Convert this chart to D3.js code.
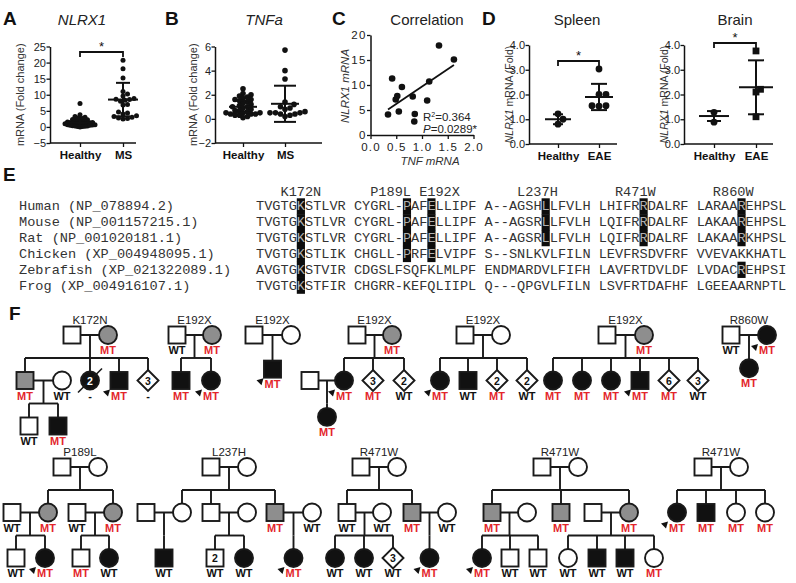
<!DOCTYPE html>
<html><head><meta charset="utf-8">
<script src="https://cdn.jsdelivr.net/npm/d3@7"></script>
<style>body{margin:0;background:#fff}svg{display:block}</style>
</head><body><svg id="c" width="796" height="583"></svg>
<script>
const FONT = '"Liberation Sans", Arial, Helvetica, sans-serif';
const MONO = '"Liberation Mono", "Courier New", monospace';

// ---------------- DATA ----------------
// Panel A: NLRX1 mRNA fold change
const aCategories = ["Healthy", "MS"];
const aHealthy = [7.3, 3.8, 3.2, 3.0, 2.8, 2.6, 2.5, 2.3, 2.2, 2.0, 1.9, 1.8, 1.7, 1.6, 1.5, 1.4, 1.4, 1.3, 1.2, 1.2, 1.1, 1.0, 1.0, 0.9, 0.9, 0.8, 0.7, 0.7, 0.6, 0.5, 0.5, 0.4, 0.3, 0.3, 0.2, 0.1, 0.1, 0.0];
const aMS = [20.7, 18.1, 15.2, 11.0, 10.2, 9.6, 8.8, 8.6, 8.5, 8.3, 8.0, 7.0, 6.8, 4.6, 4.3, 4.0, 3.5, 3.2, 3.0, 2.8, 2.6, 2.5];
const aMean = [1.4, 8.5];
const aSD = [1.1, 5.2];
const aTicks = [-5, 0, 5, 10, 15, 20, 25];

// Panel B: TNFa mRNA fold change
const bCategories = ["Healthy", "MS"];
const bHealthy = [2.5, 2.1, 2.0, 1.9, 1.8, 1.7, 1.6, 1.6, 1.5, 1.4, 1.3, 1.2, 1.1, 1.0, 1.0, 0.9, 0.8, 0.7, 0.7, 0.6, 0.5, 0.5, 0.5, 0.4, 0.4, 0.4, 0.3, 0.3, 0.2, 0.1];
const bMS = [5.7, 4.0, 3.3, 1.4, 1.2, 1.0, 0.9, 0.8, 0.6, 0.5, 0.5, 0.5, 0.4, 0.4, 0.3, 0.2];
const bMean = [1.0, 1.25];
const bSD = [0.5, 1.5];
const bTicks = [-2, 0, 2, 4, 6];

// Panel C: correlation
const cTNF   = [0.34, 0.42, 0.49, 0.52, 0.55, 0.61, 0.82, 0.86, 0.85, 1.10, 1.14, 1.33, 1.62];
const cNLRX1 = [4.1, 11.3, 7.1, 7.8, 4.7, 9.6, 7.7, 4.2, 2.7, 6.9, 10.7, 17.9, 15.1];
const cXTicks = [0, 0.5, 1.0, 1.5, 2.0];
const cYTicks = [0, 5, 10, 15, 20];

// Panel D: EAE mice
const dCategories = ["Healthy", "EAE"];
const spleenHealthy = [1.22, 1.0, 0.8];
const spleenEAE = [3.03, 2.0, 2.0, 1.55, 1.53, 1.55];
const spleenMean = [1.0, 1.9];
const spleenSD = [0.2, 0.53];
const brainHealthy = [1.28, 0.88];
const brainEAE = [3.76, 2.21, 2.1, 1.1];
const brainMean = [1.13, 2.29];
const brainSD = [0.2, 1.09];
const dTicks = [0, 1, 2, 3, 4];

// Panel E: alignment
const species = ["Human (NP_078894.2)", "Mouse (NP_001157215.1)", "Rat (NP_001020181.1)", "Chicken (XP_004948095.1)", "Zebrafish (XP_021322089.1)", "Frog (XP_004916107.1)"];
const sequences = [
  "TVGTGKSTLVR CYGRL-PAFELLIPF A--AGSHLLFVLH LHIFRRDALRF LARAAREHPSL",
  "TVGTGKSTLVR CYGRL-PAFELLIPF A--AGSRLLFVLH LQIFRRDALRF LAKAAREHPSL",
  "TVGTGKSTLVR CYGRL-PAFELLIPF A--AGSRLLFVLH LQIFRRDALRF LAKAARKHPSL",
  "TVGTGKSTLIK CHGLL-PRFELVIPF S--SNLKVLFILN LEVFRSDVFRF VVEVAKKHATL",
  "AVGTGKSTVIR CDGSLFSQFKLMLPF ENDMARDVLFIFH LAVFRTDVLDF LVDACREHPSI",
  "TVGTGKSTFIR CHGRR-KEFQLIIPL Q---QPGVLFILN LSVFRTDAFHF LGEEAARNPTL"
];
const mutationHeader = "   K172N      P189L E192X       L237H       R471W       R860W";
const highlightColumns = [5, 18, 21, 35, 47, 59];
const highlightRows = [[0,1,2,3,4,5], [0,1,2,3], [0,1,2,3], [0,1,2], [0,1,2], [0,1,2,4]];

// Panel F: pedigrees  [sex, fill, x, generation, genotype, extra]
const pedigrees = [
 {title:"K172N", row:0, people:[
   ["M","o",72,0,""],["F","g",108,0,"MT"],["M","g",25,1,"MT"],["F","o",62,1,"WT"],
   ["F","b",90,1,"-",{n:"2",dec:1}],["M","b",119,1,"MT",{pb:1}],["U","o",148,1,"-",{n:"3"}],
   ["M","o",29,2,"WT"],["M","b",58,2,"MT"]],
  fams:[[0,1,[2,4,5,6]],[2,3,[7,8]]]},
 {title:"E192X", row:0, people:[
   ["M","o",177,0,"WT"],["F","g",212,0,"MT"],["M","b",181,1,"MT"],["F","b",211,1,"MT",{pb:1}]],
  fams:[[0,1,[2,3]]]},
 {title:"E192X", row:0, people:[
   ["M","o",254,0,""],["F","o",291,0,""],["M","b",272.5,0.75,"MT",{pb:1}]],
  fams:[[0,1,[2]]]},
 {title:"E192X", row:0, people:[
   ["M","o",357,0,""],["F","g",392,0,"MT"],["F","b",344,1,"MT",{pb:1}],["U","o",373,1,"MT",{n:"3"}],
   ["U","o",404,1,"WT",{n:"2"}],["M","o",310,1,""],["F","b",327,1.8,"MT"]],
  fams:[[0,1,[2,3,4]],[5,2,[6]]]},
 {title:"E192X", row:0, people:[
   ["M","o",465,0,""],["F","o",501,0,""],["F","b",440,1,"MT",{pb:1}],["M","b",468,1,"WT"],
   ["U","o",497,1,"MT",{n:"2"}],["U","o",527,1,"WT",{n:"2"}]],
  fams:[[0,1,[2,3,4,5]]]},
 {title:"E192X", row:0, people:[
   ["M","o",607,0,""],["F","g",644,0,"MT"],["F","b",553,1,"MT"],["F","b",582,1,"MT"],["F","b",611,1,"MT"],
   ["M","b",640,1,"MT",{pb:1}],["U","o",669,1,"MT",{n:"6"}],["U","o",698,1,"WT",{n:"3"}]],
  fams:[[0,1,[2,3,4,5,6,7]]]},
 {title:"R860W", row:0, people:[
   ["M","o",731,0,"WT"],["F","b",767,0,"MT",{pb:1}],["F","b",749,0.73,"MT"]],
  fams:[[0,1,[2]]]},
 {title:"P189L", row:1, people:[
   ["M","o",62,0,""],["F","o",98,0,""],["M","o",12,1,"WT"],["F","g",48,1,"MT"],["M","o",77,1,"WT"],["F","g",113,1,"MT"],
   ["M","o",16,2,"WT"],["F","b",45,2,"MT",{pb:1}],["M","o",81,2,"MT"],["F","b",109,2,"WT"]],
  fams:[[0,1,[3,5]],[2,3,[6,7]],[4,5,[8,9]]]},
 {title:"L237H", row:1, people:[
   ["M","o",211,0,""],["F","o",247,0,""],["M","o",146,1,""],["F","o",182,1,""],["M","o",211,1,""],["F","o",247,1,""],
   ["M","g",275,1,"MT"],["F","o",312,1,"WT"],["M","b",164,2,"WT"],["M","o",215,2,"WT",{n:"2"}],["F","b",244,2,"WT"],["F","b",293.5,2,"MT",{pb:1}]],
  fams:[[0,1,[3,4,6]],[2,3,[8]],[4,5,[9,10]],[6,7,[11]]]},
 {title:"R471W", row:1, people:[
   ["M","o",361,0,""],["F","o",397,0,""],["M","o",347,1,"WT"],["F","o",382,1,"WT"],["M","g",412,1,"MT"],["F","o",447,1,"WT"],
   ["F","b",335,2,"WT"],["F","b",364,2,"WT"],["U","o",393,2,"WT",{n:"3"}],["F","b",429.5,2,"MT",{pb:1}]],
  fams:[[0,1,[2,4]],[2,3,[6,7,8]],[4,5,[9]]]},
 {title:"R471W", row:1, people:[
   ["M","o",542,0,""],["F","o",578,0,""],["M","g",492,1,"MT"],["F","o",527,1,""],["M","g",561,1,"MT"],["M","o",593,1,""],["F","g",629,1,"MT"],
   ["F","b",482,2,"MT",{pb:1}],["M","o",510,2,"WT"],["M","o",538,2,"WT"],["F","o",568,2,"WT"],["M","b",597,2,"WT"],["M","b",625,2,"WT"],["F","o",654,2,"MT"]],
  fams:[[0,1,[2,4,6]],[2,3,[7,8,9]],[5,6,[10,11,12,13]]]},
 {title:"R471W", row:1, people:[
   ["M","o",703,0,""],["F","o",739,0,""],["F","b",677,1,"MT",{pb:1}],["M","b",706,1,"MT"],["F","o",736,1,"MT"],["F","o",765,1,"MT"]],
  fams:[[0,1,[2,3,4,5]]]}
];

// ---------------- DRAWING ----------------
const svg = d3.select("#c");
svg.append("rect").attr("width",796).attr("height",583).attr("fill","#fff");

function txt(g, x, y, s, o = {}) {
  const t = g.append("text").attr("x", x).attr("y", y).text(s)
    .attr("font-family", o.family || FONT).attr("font-size", o.size || 11)
    .attr("fill", o.fill || "#111");
  if (o.weight) t.attr("font-weight", o.weight);
  if (o.style) t.attr("font-style", o.style);
  if (o.anchor) t.attr("text-anchor", o.anchor);
  if (o.ls) t.attr("letter-spacing", o.ls);
  return t;
}

// panel letters
[["A",3,25],["B",165,25],["C",332,25],["D",482,25],["E",3,181],["F",9,320]].forEach(d =>
  txt(svg, d[1], d[2], d[0], {size: 19, weight: "bold"}));

function swarm(ys, d) {
  const order = ys.map((v, i) => i).sort((a, b) => ys[b] - ys[a]);
  const placed = [], out = new Array(ys.length);
  order.forEach(i => {
    let k = 0, off = 0;
    while (k < 600) {
      off = k === 0 ? 0 : (k % 2 ? 1 : -1) * Math.ceil(k / 2) * 0.5;
      if (placed.every(p => (p.x - off) ** 2 + (p.y - ys[i]) ** 2 >= d * d)) break;
      k++;
    }
    placed.push({x: off, y: ys[i]}); out[i] = off;
  });
  return out;
}

function styleAxis(a, size) {
  a.select(".domain").attr("stroke", "#111").attr("stroke-width", 1.5);
  a.selectAll(".tick line").attr("stroke", "#111").attr("stroke-width", 1.3);
  a.selectAll(".tick text").attr("font-size", size || 11).attr("font-family", FONT).attr("fill", "#222");
}

function dotPlot(o) {
  const g = svg.append("g");
  const y = d3.scaleLinear().domain(o.yDomain).range([o.bottom, o.top]);
  const x = d3.scalePoint().domain(o.cats).range(o.catRange);
  const ya = g.append("g").attr("transform", `translate(${o.left},0)`)
    .call(d3.axisLeft(y).tickValues(o.ticks).tickSize(3.5).tickSizeOuter(0).tickPadding(0.5));
  styleAxis(ya, 11);
  const xa = g.append("g").attr("transform", `translate(0,${o.bottom})`)
    .call(d3.axisBottom(x).tickSize(4).tickPadding(4));
  xa.select(".domain").remove();
  styleAxis(xa, 11.5);
  xa.selectAll(".tick text").attr("font-weight", "bold").attr("fill", "#111");
  g.append("line").attr("x1", o.left).attr("x2", o.right).attr("y1", o.bottom).attr("y2", o.bottom)
    .attr("stroke", "#111").attr("stroke-width", 1.5);
  // points
  o.groups.forEach((vals, i) => {
    const cx = x(o.cats[i]);
    const ys = vals.map(v => y(v));
    const offs = swarm(ys, o.r * 2 * o.pack[i]);
    const shape = (o.shapes && o.shapes[i]) || "circle";
    vals.forEach((v, j) => {
      if (shape === "circle")
        g.append("circle").attr("cx", cx + offs[j]).attr("cy", ys[j]).attr("r", o.r).attr("fill", "#111");
      else
        g.append("rect").attr("x", cx + offs[j] - o.r).attr("y", ys[j] - o.r).attr("width", o.r * 2).attr("height", o.r * 2).attr("fill", "#111");
    });
  });
  // mean +- SD
  o.means.forEach((m, i) => {
    const cx = x(o.cats[i]);
    const lw = o.meanW[i], cw = o.capW[i];
    const line = (x1, y1, x2, y2) => g.append("line").attr("x1", x1).attr("y1", y1).attr("x2", x2).attr("y2", y2)
      .attr("stroke", "#111").attr("stroke-width", 2);
    line(cx - lw, y(m), cx + lw, y(m));
    line(cx, y(m - o.sd[i]), cx, y(m + o.sd[i]));
    line(cx - cw, y(m + o.sd[i]), cx + cw, y(m + o.sd[i]));
    line(cx - cw, y(m - o.sd[i]), cx + cw, y(m - o.sd[i]));
  });
  // significance bracket
  if (o.sig) {
    const by = o.sig;
    const x1 = x(o.cats[0]), x2 = x(o.cats[1]);
    g.append("path").attr("d", `M${x1},${by + 5}V${by}H${x2}V${by + 5}`).attr("fill", "none")
      .attr("stroke", "#111").attr("stroke-width", 1.8);
    txt(g, (x1 + x2) / 2, by - 1, "*", {size: 13, anchor: "middle"});
  }
  if (o.title) txt(g, o.titleX, 25, o.title, {size: 15, anchor: "middle", style: o.titleItalic ? "italic" : null, fill: "#222"});
  const yl = g.append("text").attr("transform", `translate(${o.ylabelX},${(o.top + o.bottom) / 2}) rotate(-90)`)
    .attr("text-anchor", "middle").attr("font-family", FONT).attr("font-size", o.ylabelSize || 11).attr("fill", "#333");
  o.ylabel.forEach(p => yl.append("tspan").text(p[0]).attr("font-style", p[1] ? "italic" : null));
  return g;
}

// A
dotPlot({yDomain: [-5, 25], bottom: 143, top: 46.5, ticks: aTicks, cats: aCategories, catRange: [80, 123],
  left: 50, right: 136, groups: [aHealthy, aMS], r: 2.5, pack: [0.5, 0.9], means: aMean, sd: aSD,
  meanW: [15, 15], capW: [7, 7], sig: 52, title: "NLRX1", titleItalic: true, titleX: 82,
  ylabelX: 24, ylabel: [["mRNA (Fold change)", 0]]});
// B
dotPlot({yDomain: [-2, 6], bottom: 143, top: 46.5, ticks: bTicks, cats: bCategories, catRange: [243, 285],
  left: 215, right: 322, groups: [bHealthy, bMS], r: 2.8, pack: [0.75, 0.9], means: bMean, sd: bSD,
  meanW: [14, 14], capW: [10, 11], title: "TNFa", titleItalic: true, titleX: 264,
  ylabelX: 197, ylabel: [["mRNA (Fold change)", 0]]});
// D spleen
dotPlot({yDomain: [0, 4], bottom: 144, top: 45, ticks: dTicks, cats: dCategories, catRange: [558, 599],
  left: 529, right: 617, groups: [spleenHealthy, spleenEAE], r: 3.4, pack: [1.0, 1.0], means: spleenMean, sd: spleenSD,
  meanW: [13, 14], capW: [5, 8], sig: 61, title: "Spleen", titleX: 577,
  ylabelX: 513, ylabelSize: 10.5, ylabel: [["NLRX1", 1], [" mRNA (Fold)", 0]]});
// D brain
dotPlot({yDomain: [0, 4], bottom: 144, top: 45, ticks: dTicks, cats: dCategories, catRange: [714, 756],
  left: 684, right: 773, groups: [brainHealthy, brainEAE], r: 3.4, pack: [1.0, 0.75], shapes: ["circle", "square"],
  means: brainMean, sd: brainSD, meanW: [15, 17], capW: [7, 8], sig: 43, title: "Brain", titleX: 735,
  ylabelX: 668, ylabelSize: 10.5, ylabel: [["NLRX1", 1], [" mRNA (Fold)", 0]]});

// C scatter
(function () {
  const g = svg.append("g");
  const x = d3.scaleLinear().domain([0, 2]).range([370.5, 473.5]);
  const y = d3.scaleLinear().domain([0, 20]).range([135, 35]);
  const xa = g.append("g").attr("transform", "translate(0,135)")
    .call(d3.axisBottom(x).tickValues(cXTicks).tickSize(4).tickSizeOuter(0).tickFormat(d3.format(".1f")).tickPadding(4));
  styleAxis(xa, 11.5);
  xa.selectAll(".tick text").attr("letter-spacing", 1.2);
  const ya = g.append("g").attr("transform", "translate(370.5,0)")
    .call(d3.axisLeft(y).tickValues(cYTicks).tickSize(3.5).tickSizeOuter(0).tickPadding(0.5));
  styleAxis(ya, 11.5);
  ya.selectAll(".tick text").attr("letter-spacing", 1.2);
  // regression (least squares)
  const mx = d3.mean(cTNF), my = d3.mean(cNLRX1);
  let sxy = 0, sxx = 0;
  cTNF.forEach((v, i) => { sxy += (v - mx) * (cNLRX1[i] - my); sxx += (v - mx) ** 2; });
  const b = sxy / sxx, a = my - b * mx;
  const [x0, x1] = d3.extent(cTNF);
  g.append("line").attr("x1", x(x0)).attr("y1", y(a + b * x0)).attr("x2", x(x1)).attr("y2", y(a + b * x1))
    .attr("stroke", "#111").attr("stroke-width", 1.8);
  cTNF.forEach((v, i) => g.append("circle").attr("cx", x(v)).attr("cy", y(cNLRX1[i])).attr("r", 3.3).attr("fill", "#111"));
  txt(g, 427, 25, "Correlation", {size: 15, anchor: "middle", fill: "#222"});
  const t1 = txt(g, 423, 121, "R", {size: 11.5, fill: "#222"});
  t1.append("tspan").text("2").attr("font-size", 7).attr("dy", -4);
  t1.append("tspan").text("=0.364").attr("dy", 4);
  const t2 = txt(g, 423, 133, "", {size: 11.5, fill: "#222"});
  t2.append("tspan").text("P").attr("font-style", "italic");
  t2.append("tspan").text("=0.0289*");
  txt(g, 430, 165, "TNF mRNA", {size: 11.5, anchor: "middle", style: "italic", fill: "#333"});
  txt(g, 0, 0, "NLRX1 mRNA", {size: 11.5, anchor: "middle", style: "italic", fill: "#333"})
    .attr("transform", "translate(349,86) rotate(-90)");
})();

// E alignment
(function () {
  const g = svg.append("g");
  const fs = 13.6, cw = fs * 0.6, x0 = 256;
  const rowY = d3.scaleLinear().domain([0, 1]).range([210.3, 226.15]);
  const colX = d3.scaleLinear().domain([0, 1]).range([x0, x0 + cw]);
  txt(g, x0, 196, mutationHeader, {family: MONO, size: fs, fill: "#333"}).style("white-space", "pre");
  highlightColumns.forEach((c, k) => {
    highlightRows[k].forEach(r => {
      g.append("rect").attr("x", colX(c)).attr("y", rowY(r) - 12).attr("width", cw)
        .attr("height", rowY(1) - rowY(0) + 0.4).attr("fill", "#0d0d0d");
    });
  });
  species.forEach((s, r) => txt(g, 19, rowY(r), s, {family: MONO, size: fs, fill: "#333"}).style("white-space", "pre"));
  sequences.forEach((s, r) => {
    const hl = highlightColumns.filter((c, k) => highlightRows[k].includes(r));
    const t = g.append("text").attr("x", x0).attr("y", rowY(r)).attr("font-family", MONO).attr("font-size", fs)
      .style("white-space", "pre");
    let start = 0;
    const cuts = [...hl].sort((a, b) => a - b);
    cuts.forEach(c => {
      if (c > start) t.append("tspan").text(s.slice(start, c)).attr("fill", "#333");
      t.append("tspan").text(s[c]).attr("fill", "#b0b0b0");
      start = c + 1;
    });
    t.append("tspan").text(s.slice(start)).attr("fill", "#333");
  });
})();

// F pedigrees
(function () {
  const g = svg.append("g");
  const rowBase = [335, 467];
  const px = d3.scaleLinear().domain([0, 796]).range([0, 796]);
  const half = 8.5, rad = 9, dia = 10.5;
  const fills = {o: "#fff", g: "#8e8e8e", b: "#111"};
  const lineG = g.append("g"), symG = g.append("g");
  const L = (x1, y1, x2, y2) => lineG.append("line").attr("x1", x1).attr("y1", y1).attr("x2", x2).attr("y2", y2)
    .attr("stroke", "#1a1a1a").attr("stroke-width", 1.9);
  pedigrees.forEach(p => {
    const gy = d3.scaleLinear().domain([0, 1]).range([rowBase[p.row], rowBase[p.row] + 45.5]);
    const pos = p.people.map(q => ({x: px(q[2]), y: gy(q[3])}));
    const f0 = p.fams[0];
    txt(g, (pos[f0[0]].x + pos[f0[1]].x) / 2, pos[f0[0]].y - 11.5, p.title, {size: 11.5, anchor: "middle", fill: "#222"});
    p.fams.forEach(([fa, mo, kids]) => {
      const py = pos[fa].y, mx = (pos[fa].x + pos[mo].x) / 2;
      L(pos[fa].x, py, pos[mo].x, py);
      const sy = py + 23;
      L(mx, py, mx, sy);
      const kx = kids.map(k => pos[k].x);
      if (kids.length > 1) L(d3.min(kx), sy, d3.max(kx), sy);
      kids.forEach(k => L(pos[k].x, sy, pos[k].x, pos[k].y));
    });
    p.people.forEach((q, i) => {
      const [sex, fl, , , lab, ex] = q; const {x, y} = pos[i]; const e = ex || {};
      let s;
      if (sex === "M") s = symG.append("rect").attr("x", x - half).attr("y", y - half).attr("width", half * 2).attr("height", half * 2);
      else if (sex === "F") s = symG.append("circle").attr("cx", x).attr("cy", y).attr("r", rad);
      else s = symG.append("path").attr("d", `M${x},${y - dia}L${x + dia},${y}L${x},${y + dia}L${x - dia},${y}Z`);
      s.attr("fill", fills[fl]).attr("stroke", "#1a1a1a").attr("stroke-width", 1.9);
      if (e.dec) symG.append("line").attr("x1", x - 12).attr("y1", y + 12).attr("x2", x + 12).attr("y2", y - 12)
        .attr("stroke", "#1a1a1a").attr("stroke-width", 1.6);
      if (e.n) txt(symG, x, y + 4, e.n, {size: 10.5, weight: "bold", anchor: "middle", fill: fl === "b" ? "#fff" : "#111"});
      if (e.pb) symG.append("path").attr("d", `M${x - 9},${y + 9}L${x - 16},${y + 11}L${x - 11},${y + 16}Z`).attr("fill", "#111");
      if (lab) txt(symG, x, y + 19, lab, {size: 11, weight: "bold", anchor: "middle", fill: lab === "MT" ? "#e3262b" : "#111"});
    });
  });
})();
</script></body></html>
